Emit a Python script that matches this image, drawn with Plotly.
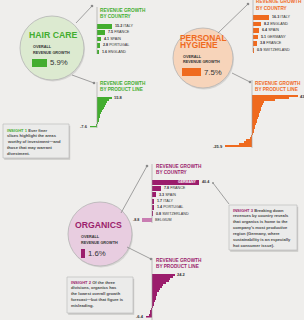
import plotly.graph_objects as go

W, H = 304, 320
BG = "#efeeec"
GREEN = "#43ad2f"
ORANGE = "#ef6a1e"
PURPLE = "#9b1d6c"
PURPLE_LIGHT = "#c97db2"
DARK = "#333333"
HEAD = "Liberation Sans, Arial, sans-serif"
BODY = "Liberation Sans, Arial, sans-serif"

# ---------------- data ----------------
overall_labels = ["HAIR CARE", "PERSONAL HYGIENE", "ORGANICS"]
overall_growth = [5.9, 7.5, 1.6]

hc_countries = ["ITALY", "FRANCE", "SPAIN", "PORTUGAL", "ENGLAND"]
hc_country_growth = [15.2, 7.5, 4.1, 2.8, 1.6]
hc_product_growth = [15.8, 12.0, 10.2, 9.0, 8.1, 7.2, 6.3, 5.4, 4.5, 3.6, 2.8, 2.0, 1.3, 0.6, -1.0, -7.6]

ph_countries = ["ITALY", "ENGLAND", "SPAIN", "GERMANY", "FRANCE", "SWITZERLAND"]
ph_country_growth = [16.3, 8.2, 6.4, 5.1, 3.8, 0.9]
ph_product_growth = [43.7, 35.2, 22.0, 11.8, 10.6, 9.7, 8.8, 8.2, 7.6, 7.0, 6.4, 5.7, 5.2,
                     4.5, 3.9, 3.3, 2.7, 2.1, 1.2, 0.6, -0.4, -1.0, -6.0, -7.6, -12.0, -25.9]

org_countries = ["GERMANY", "FRANCE", "SPAIN", "ITALY", "PORTUGAL", "SWITZERLAND", "BELGIUM"]
org_country_growth = [40.4, 7.8, 3.3, 1.7, 1.4, 0.8, -8.8]
org_product_growth = [24.2, 22.0, 19.0, 17.7, 14.3, 11.7, 10.0, 8.3, 7.0, 5.7, 5.0, 4.3, 3.7,
                      3.0, 2.3, 1.7, 1.0, -0.8, -1.5, -2.5, -3.5, -6.4]

insight_1 = ["Ever finer", "slices highlight the areas", "worthy of investment\u2014and",
             "those that may warrant", "divestment."]
insight_2 = ["Of the three", "divisions, organics has", "the lowest overall growth",
             "forecast\u2014but that figure is", "misleading."]
insight_3 = ["Breaking down", "revenues by country reveals", "that organics is home to the",
             "company\u2019s most productive", "region (Germany, where",
             "sustainability is an especially", "hot consumer issue)."]

# ---------------- helpers ----------------
fig = go.Figure()
layout = {}
shapes = []
annots = []
n_axes = [0]


def PX(x):
    return x / W


def PY(y):
    return 1 - y / H


def new_axes(xd, yd, xr, yr):
    n_axes[0] += 1
    i = n_axes[0]
    s = "" if i == 1 else str(i)
    layout["xaxis" + s] = dict(domain=[PX(xd[0]), PX(xd[1])], range=xr, visible=False,
                               fixedrange=True, anchor="y" + s)
    layout["yaxis" + s] = dict(domain=[PY(yd[1]), PY(yd[0])], range=yr, visible=False,
                               fixedrange=True, anchor="x" + s)
    return "x" + s, "y" + s


def bar_chart(values, colors, axis_px, scale, y_top, spacing, left_px, right_px, width=0.7):
    n = len(values)
    yd = (y_top - spacing / 2, y_top + (n - 1) * spacing + spacing / 2)
    xr = [(left_px - axis_px) / scale, (right_px - axis_px) / scale]
    xa, ya = new_axes((left_px, right_px), yd, xr, [n - 0.5, -0.5])
    fig.add_trace(go.Bar(x=values, y=list(range(n)), orientation="h",
                         marker=dict(color=colors, line=dict(width=0)), width=width,
                         xaxis=xa, yaxis=ya, hoverinfo="skip", showlegend=False))
    return xa, ya


def text(x, y, s, size, color=DARK, family=BODY, xanchor="left", yanchor="middle",
         xref="paper", yref="paper", xshift=0):
    if xref == "paper":
        x = PX(x)
    if yref == "paper":
        y = PY(y)
    annots.append(dict(x=x, y=y, xref=xref, yref=yref, text=s, showarrow=False,
                       xanchor=xanchor, yanchor=yanchor, xshift=xshift,
                       font=dict(size=size, color=color, family=family),
                       borderpad=0, align="left"))


def line(x0, y0, x1, y1, color="#8a8a8a", width=0.8):
    shapes.append(dict(type="line", xref="paper", yref="paper", x0=PX(x0), y0=PY(y0),
                       x1=PX(x1), y1=PY(y1), line=dict(color=color, width=width)))


def dot(x, y, r=1.3, color="#8a8a8a"):
    shapes.append(dict(type="circle", xref="paper", yref="paper", x0=PX(x - r), x1=PX(x + r),
                       y0=PY(y + r), y1=PY(y - r), fillcolor=color, line=dict(width=0)))


def circle(cx, cy, r, fill):
    shapes.append(dict(type="circle", xref="paper", yref="paper", layer="below",
                       x0=PX(cx - r + 1), x1=PX(cx + r + 1), y0=PY(cy + r + 1.5), y1=PY(cy - r + 1.5),
                       fillcolor="#d6d5d3", line=dict(width=0)))
    shapes.append(dict(type="circle", xref="paper", yref="paper", layer="below",
                       x0=PX(cx - r), x1=PX(cx + r), y0=PY(cy + r), y1=PY(cy - r),
                       fillcolor=fill, line=dict(color="#b4b4b4", width=0.8)))


def box(x0, y0, x1, y1):
    shapes.append(dict(type="rect", xref="paper", yref="paper", layer="below",
                       x0=PX(x0 + 1.2), x1=PX(x1 + 1.2), y0=PY(y1 + 1.8), y1=PY(y0 + 1.8),
                       fillcolor="#c9c8c6", line=dict(width=0)))
    shapes.append(dict(type="rect", xref="paper", yref="paper", layer="below",
                       x0=PX(x0), x1=PX(x1), y0=PY(y1), y1=PY(y0),
                       fillcolor="#ebebea", line=dict(color="#bdbdbd", width=0.7)))


def title2(x, y, color, second):
    text(x, y, "<b>REVENUE GROWTH</b>", 4.7, color, BODY)
    text(x, y + 6.2, "<b>" + second + "</b>", 4.7, color, BODY)


def insight(x, y, num, color, lines):
    for i, s in enumerate(lines):
        if i == 0:
            s = "<span style='color:%s'><b>INSIGHT %d</b></span> <b>%s</b>" % (color, num, s)
        else:
            s = "<b>" + s + "</b>"
        text(x, y + i * 5.85, s, 4.1, "#4a4a4a", BODY)


# ---------------- HAIR CARE ----------------
circle(52, 48, 32, "#dcead0")
text(28, 35, "<b>HAIR CARE</b>", 8.7, GREEN, HEAD)
text(32, 47, "<b>OVERALL</b>", 3.8, DARK)
text(32, 52.5, "<b>REVENUE GROWTH</b>", 3.8, DARK)
xa, ya = new_axes((32, 72), (59, 67), [0, 16], [-0.5, 0.5])
fig.add_trace(go.Bar(x=[overall_growth[0]], y=[0], orientation="h", width=1,
                     marker=dict(color=GREEN, line=dict(width=0)), xaxis=xa, yaxis=ya,
                     hoverinfo="skip", showlegend=False))
text(overall_growth[0], 0, "%.1f%%" % overall_growth[0], 7.8, DARK, BODY, xref=xa, yref=ya, xshift=2)

line(76, 23, 92, 6)
dot(92, 6)
line(97, 7, 97, 54, "#9a9a9a", 0.6)
title2(99, 10, GREEN, "BY COUNTRY")
xa, ya = bar_chart(hc_country_growth, GREEN, 97, 1.0, 26, 6.4, 90, 150, 0.72)
for i, (c, v) in enumerate(zip(hc_countries, hc_country_growth)):
    text(v, i, "<b>%.1f</b> %s" % (v, c), 3.7, DARK, BODY, xref=xa, yref=ya, xshift=2)

line(72, 75, 94, 83)
dot(94, 83)
line(97, 82, 97, 128, "#9a9a9a", 0.6)
title2(99, 83, GREEN, "BY PRODUCT LINE")
xa, ya = bar_chart(hc_product_growth, GREEN, 97, 0.97, 97.5, 1.92, 80, 140, 0.5)
n = len(hc_product_growth)
text(hc_product_growth[0], 0, "<b>%.1f</b>" % hc_product_growth[0], 4.0, DARK, BODY, xref=xa, yref=ya, xshift=1)
text(hc_product_growth[-1], n - 1, "<b>%.1f</b>" % hc_product_growth[-1], 4.0, DARK, BODY,
     xanchor="right", xref=xa, yref=ya, xshift=-1)

box(3, 124, 69, 158)
insight(6, 130, 1, GREEN, insight_1)

# ---------------- PERSONAL HYGIENE ----------------
circle(203, 58, 30, "#f7d4ba")
text(179, 37.5, "<b>PERSONAL</b>", 8.4, ORANGE, HEAD)
text(179, 45, "<b>HYGIENE</b>", 8.4, ORANGE, HEAD)
text(182, 57, "<b>OVERALL</b>", 3.8, DARK)
text(182, 62, "<b>REVENUE GROWTH</b>", 3.8, DARK)
xa, ya = new_axes((182, 222), (68, 76), [0, 16], [-0.5, 0.5])
fig.add_trace(go.Bar(x=[overall_growth[1]], y=[0], orientation="h", width=1,
                     marker=dict(color=ORANGE, line=dict(width=0)), xaxis=xa, yaxis=ya,
                     hoverinfo="skip", showlegend=False))
text(overall_growth[1], 0, "%.1f%%" % overall_growth[1], 7.8, DARK, BODY, xref=xa, yref=ya, xshift=2)

line(218, 33, 248, 4)
dot(248, 4)
line(253, 0, 253, 52, "#9a9a9a", 0.6)
title2(255, 2, ORANGE, "BY COUNTRY")
xa, ya = bar_chart(ph_country_growth, ORANGE, 253, 1.0, 17, 6.6, 246, 304, 0.72)
for i, (c, v) in enumerate(zip(ph_countries, ph_country_growth)):
    text(v, i, "<b>%.1f</b> %s" % (v, c), 3.7, DARK, BODY, xref=xa, yref=ya, xshift=2)

line(232, 73, 250, 82)
dot(250, 82)
line(252, 80, 252, 148, "#9a9a9a", 0.6)
title2(254, 83, ORANGE, "BY PRODUCT LINE")
xa, ya = bar_chart(ph_product_growth, ORANGE, 252, 1.05, 96, 2.0, 220, 304, 0.5)
n = len(ph_product_growth)
text(ph_product_growth[0], 0, "<b>%.1f</b>" % ph_product_growth[0], 4.0, DARK, BODY, xref=xa, yref=ya, xshift=1)
text(ph_product_growth[-1], n - 1, "<b>%.1f</b>" % ph_product_growth[-1], 4.0, DARK, BODY,
     xanchor="right", xref=xa, yref=ya, xshift=-1)

# ---------------- ORGANICS ----------------
circle(100, 234, 32, "#e8cde0")
text(74, 225, "<b>ORGANICS</b>", 8.7, PURPLE, HEAD)
text(80, 237, "<b>OVERALL</b>", 3.8, DARK)
text(80, 243, "<b>REVENUE GROWTH</b>", 3.8, DARK)
xa, ya = new_axes((81, 121), (249, 258), [0, 16], [-0.5, 0.5])
fig.add_trace(go.Bar(x=[overall_growth[2]], y=[0], orientation="h", width=1,
                     marker=dict(color=PURPLE, line=dict(width=0)), xaxis=xa, yaxis=ya,
                     hoverinfo="skip", showlegend=False))
text(overall_growth[2], 0, "%.1f%%" % overall_growth[2], 7.8, DARK, BODY, xref=xa, yref=ya, xshift=2)

line(121, 213, 147, 166)
dot(147, 166)
line(152, 164, 152, 223, "#9a9a9a", 0.6)
title2(155, 166, PURPLE, "BY COUNTRY")
org_colors = [PURPLE_LIGHT if v < 0 else PURPLE for v in org_country_growth]
xa, ya = bar_chart(org_country_growth, org_colors, 152, 1.17, 182, 6.33, 130, 230, 0.74)
for i, (c, v) in enumerate(zip(org_countries, org_country_growth)):
    if i == 0:
        text(v, i, "<b>%s</b>" % c, 3.5, "white", BODY, xanchor="right", xref=xa, yref=ya, xshift=-1)
        text(v, i, "<b>%.1f</b>" % v, 3.7, DARK, BODY, xref=xa, yref=ya, xshift=2)
    elif v < 0:
        text(v, i, "<b>%.1f</b>" % v, 3.7, DARK, BODY, xanchor="right", xref=xa, yref=ya, xshift=-2)
        text(0, i, c, 3.7, DARK, BODY, xref=xa, yref=ya, xshift=2)
    else:
        text(v, i, "<b>%.1f</b> %s" % (v, c), 3.7, DARK, BODY, xref=xa, yref=ya, xshift=2)

line(213, 183, 229, 204)
dot(213, 183, 0.9)

line(127, 247, 151, 259)
dot(151, 259)
line(152, 258, 152, 320, "#9a9a9a", 0.6)
title2(155, 260.5, PURPLE, "BY PRODUCT LINE")
xa, ya = bar_chart(org_product_growth, PURPLE, 152, 0.95, 274.5, 2.0, 130, 200, 0.5)
n = len(org_product_growth)
text(org_product_growth[0], 0, "<b>%.1f</b>" % org_product_growth[0], 4.0, DARK, BODY, xref=xa, yref=ya, xshift=1)
text(org_product_growth[-1], n - 1, "<b>%.1f</b>" % org_product_growth[-1], 4.0, DARK, BODY,
     xanchor="right", xref=xa, yref=ya, xshift=-1)

box(229, 205, 297, 250)
insight(232, 210, 3, PURPLE, insight_3)
box(67, 277, 133, 313)
insight(70, 282, 2, PURPLE, insight_2)

fig.update_layout(**layout)
fig.update_layout(width=W, height=H, margin=dict(l=0, r=0, t=0, b=0),
                  paper_bgcolor=BG, plot_bgcolor="rgba(0,0,0,0)",
                  shapes=shapes, annotations=annots, showlegend=False, bargap=0)
fig.write_html("out.html", config={"displayModeBar": False})
